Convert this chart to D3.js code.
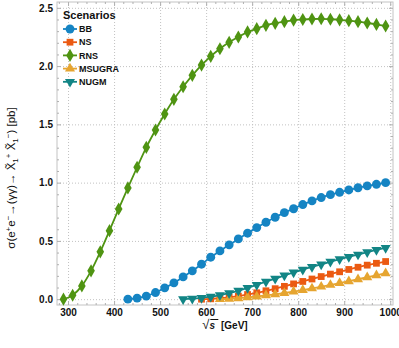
<!DOCTYPE html>
<html>
<head>
<meta charset="utf-8">
<script src="https://cdn.jsdelivr.net/npm/d3@7/dist/d3.min.js"></script>
<style>
  body { margin: 0; background: #fff; }
  svg { display: block; font-family: "Liberation Sans", Arial, sans-serif; }
</style>
</head>
<body>
<div id="chart"></div>
<script>
// Data (sqrt(s) in GeV, cross-section in pb)
const sqrtsBB = d3.range(430, 991, 20);
const valuesBB = [0.000, 0.009, 0.026, 0.057, 0.097, 0.140, 0.191, 0.243, 0.300, 0.360,
  0.414, 0.466, 0.517, 0.566, 0.614, 0.660, 0.703, 0.743, 0.776, 0.812, 0.843, 0.872,
  0.897, 0.917, 0.937, 0.956, 0.972, 0.986, 1.000];

const sqrtsNS = d3.range(590, 991, 20);
const valuesNS = [0.000, 0.003, 0.008, 0.016, 0.026, 0.040, 0.055, 0.072, 0.090, 0.110,
  0.131, 0.152, 0.173, 0.194, 0.215, 0.235, 0.255, 0.274, 0.292, 0.308, 0.323];

const sqrtsRNS = d3.range(290, 991, 20);
const valuesRNS = [0.000, 0.034, 0.114, 0.243, 0.406, 0.588, 0.774, 0.955, 1.132, 1.303,
  1.452, 1.589, 1.715, 1.823, 1.921, 2.009, 2.084, 2.149, 2.204, 2.250, 2.293, 2.321,
  2.350, 2.367, 2.381, 2.395, 2.400, 2.404, 2.406, 2.402, 2.397, 2.390, 2.381, 2.370,
  2.358, 2.344];

const sqrtsMSUGRA = d3.range(630, 991, 20);
const valuesMSUGRA = [0.000, 0.003, 0.008, 0.015, 0.023, 0.032, 0.042, 0.053, 0.065, 0.078,
  0.092, 0.107, 0.122, 0.138, 0.154, 0.171, 0.188, 0.205, 0.222];

const sqrtsNUGM = d3.range(550, 991, 20);
const valuesNUGM = [0.000, 0.004, 0.011, 0.021, 0.035, 0.052, 0.072, 0.097, 0.123, 0.150,
  0.176, 0.203, 0.229, 0.254, 0.277, 0.299, 0.321, 0.343, 0.363, 0.383, 0.403, 0.422,
  0.440];

const xTicks = [300, 400, 500, 600, 700, 800, 900, 1000];
const yTicks = [0.0, 0.5, 1.0, 1.5, 2.0, 2.5];

const series = [
  {name: "BB", color: "#1584c3", symbol: d3.symbolCircle, size: 62, rot: 0, x: sqrtsBB, y: valuesBB},
  {name: "NS", color: "#eb5a12", symbol: d3.symbolSquare, size: 46, rot: 0, x: sqrtsNS, y: valuesNS},
  {name: "RNS", color: "#4f9412", symbol: d3.symbolDiamond, size: 50, rot: 0, x: sqrtsRNS, y: valuesRNS},
  {name: "MSUGRA", color: "#e6a530", symbol: d3.symbolTriangle, size: 44, rot: 0, x: sqrtsMSUGRA, y: valuesMSUGRA},
  {name: "NUGM", color: "#128585", symbol: d3.symbolTriangle, size: 44, rot: 180, x: sqrtsNUGM, y: valuesNUGM},
];

const W = 399, H = 348;
const margin = {top: 2, right: 6, bottom: 43, left: 57};
const width = W - margin.left - margin.right;
const height = H - margin.top - margin.bottom;

const svg = d3.select("#chart").append("svg").attr("width", W).attr("height", H);
const g = svg.append("g").attr("transform", `translate(${margin.left},${margin.top})`);

const x = d3.scaleLinear().domain([276, 1006]).range([0, width]);
const y = d3.scaleLinear().domain([-0.05, 2.55]).range([height, 0]);

// dotted grid
g.append("g")
  .attr("transform", `translate(0,${height})`)
  .call(d3.axisBottom(x).tickValues(xTicks).tickSize(-height).tickFormat(""))
  .call((a) => a.select(".domain").remove())
  .selectAll("line").attr("stroke", "#c2c2c2").attr("stroke-dasharray", "1,2");
g.append("g")
  .call(d3.axisLeft(y).tickValues(yTicks).tickSize(-width).tickFormat(""))
  .call((a) => a.select(".domain").remove())
  .selectAll("line").attr("stroke", "#c2c2c2").attr("stroke-dasharray", "1,2");

// frame
g.append("rect").attr("width", width).attr("height", height)
  .attr("fill", "none").attr("stroke", "#c4c4c4");

// ticks inside frame, on all four sides
const xMinor = d3.range(280, 1001, 20).filter((v) => v % 100 !== 0);
const yMinor = d3.range(0, 26).map((i) => i / 10).filter((v, i) => i % 5 !== 0);
function tickAxis(axis, size) {
  return axis.tickSizeInner(-size).tickSizeOuter(0).tickFormat("");
}
const tickSets = [
  [d3.axisBottom, x, `translate(0,${height})`, xTicks, xMinor],
  [d3.axisTop, x, null, xTicks, xMinor],
  [d3.axisLeft, y, null, yTicks, yMinor],
  [d3.axisRight, y, `translate(${width},0)`, yTicks, yMinor],
];
tickSets.forEach(([ax, sc, tr, major, minor]) => {
  [[major, 4], [minor, 2]].forEach(([vals, sz]) => {
    const a = g.append("g").call(tickAxis(ax(sc).tickValues(vals), sz));
    if (tr) a.attr("transform", tr);
    a.select(".domain").remove();
    a.selectAll("line").attr("stroke", "#b0b0b0");
  });
});

// tick labels
g.append("g")
  .attr("transform", `translate(0,${height})`)
  .call(d3.axisBottom(x).tickValues(xTicks).tickSize(0).tickPadding(4).tickFormat(d3.format("d")))
  .call((a) => a.select(".domain").remove())
  .selectAll("text").attr("font-size", 10).attr("font-weight", "bold").attr("fill", "#111")
  .attr("font-family", "Liberation Sans, Arial, sans-serif");
g.append("g")
  .call(d3.axisLeft(y).tickValues(yTicks).tickSize(0).tickPadding(4).tickFormat(d3.format(".1f")))
  .call((a) => a.select(".domain").remove())
  .selectAll("text").attr("font-size", 10).attr("font-weight", "bold").attr("fill", "#111")
  .attr("font-family", "Liberation Sans, Arial, sans-serif");

// curves and markers
const line = d3.line().curve(d3.curveMonotoneX);
series.forEach((s) => {
  const pts = s.x.map((v, i) => [x(v), y(s.y[i])]);
  g.append("path").attr("d", line(pts)).attr("fill", "none")
    .attr("stroke", s.color).attr("stroke-width", 1.8);
  g.append("g").selectAll("path").data(pts).join("path")
    .attr("d", d3.symbol(s.symbol, s.size))
    .attr("transform", (p) => `translate(${p[0]},${p[1]}) rotate(${s.rot})`)
    .attr("fill", s.color);
});

// legend
const legend = svg.append("g").attr("transform", "translate(63,15)");
legend.append("text").attr("x", 0).attr("y", 0).attr("dy", "0.35em")
  .attr("font-size", 11).attr("font-weight", "bold").attr("fill", "#111").text("Scenarios");
series.forEach((s, i) => {
  const row = legend.append("g").attr("transform", `translate(0,${14 + i * 13.2})`);
  row.append("line").attr("x1", 0).attr("x2", 14).attr("stroke", s.color).attr("stroke-width", 1.8);
  row.append("path").attr("d", d3.symbol(s.symbol, s.size)).attr("fill", s.color)
    .attr("transform", `translate(7,0) rotate(${s.rot})`);
  row.append("text").attr("x", 16).attr("dy", "0.35em").attr("font-size", 9)
    .attr("font-weight", "bold").attr("fill", "#111").text(s.name);
});

// x axis label: sqrt(s) [GeV]
const xl = svg.append("g").attr("transform", `translate(${margin.left + width / 2},329)`);
const xt = xl.append("text").attr("text-anchor", "middle").attr("font-size", 10).attr("fill", "#111");
xt.append("tspan").attr("font-size", 13).text("√");
xt.append("tspan").attr("font-style", "italic").attr("font-weight", "bold").text("s");
xt.append("tspan").attr("font-weight", "bold").attr("dx", 6).text("[GeV]");
const bb = xt.node().getBBox();
xl.append("line").attr("x1", bb.x + 8).attr("x2", bb.x + 16)
  .attr("y1", bb.y + 2.5).attr("y2", bb.y + 2.5).attr("stroke", "#111").attr("stroke-width", 1);

// y axis label
const yt = svg.append("text")
  .attr("transform", `translate(15,178) rotate(-90)`)
  .attr("text-anchor", "middle").attr("font-size", 11.5).attr("fill", "#111");
const parts = [
  ["σ(e", 0], ["+", -4], ["e", 0], ["−", -4], ["→(γγ)→ X̃", 0], ["1", 3], ["+", -4],
  [" X̃", 0], ["1", 3], ["−", -4], [")  [pb]", 0],
];
let shift = 0;
parts.forEach(([t, dy]) => {
  const sp = yt.append("tspan").attr("dy", dy - shift).text(t);
  if (dy !== 0) sp.attr("font-size", 8);
  shift = dy;
});
</script>
</body>
</html>
